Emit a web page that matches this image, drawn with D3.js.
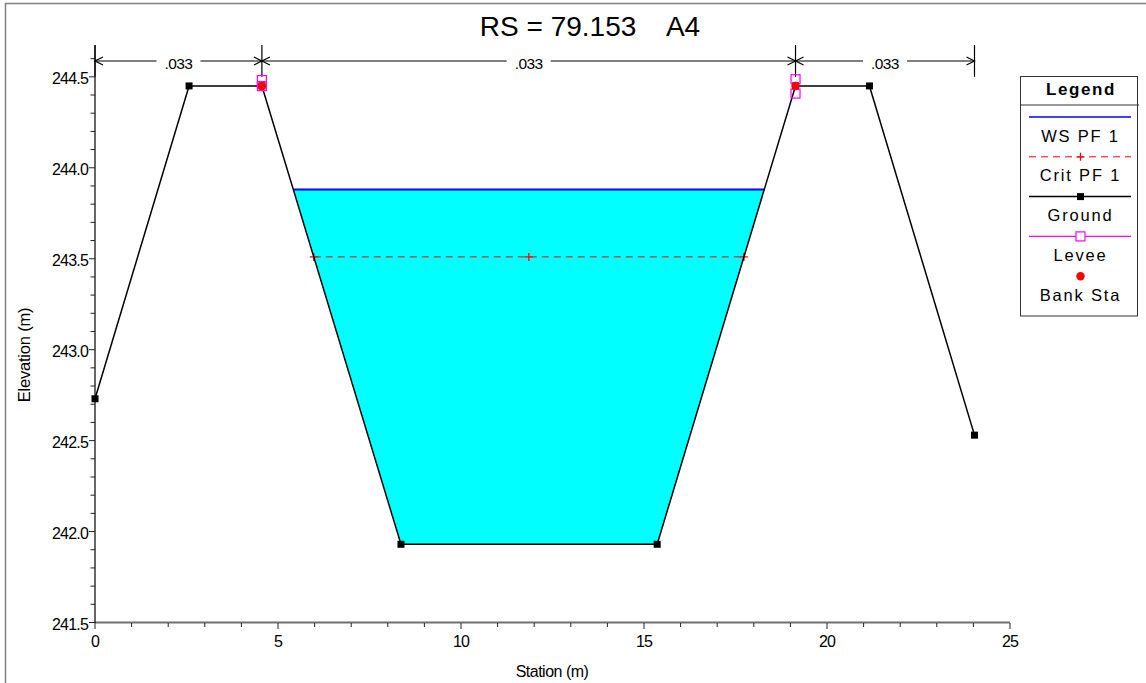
<!DOCTYPE html>
<html>
<head>
<meta charset="utf-8">
<script src="https://cdn.jsdelivr.net/npm/d3@7"></script>
<style>
  html, body { margin: 0; padding: 0; background: #fff; }
  svg { display: block; font-family: "Liberation Sans", Arial, Helvetica, sans-serif; }
</style>
</head>
<body>
<svg id="chart" width="1146" height="683"></svg>
<script>
// ---- data ----
const title = "RS = 79.153    A4";
const groundStations = [0, 2.57, 4.56, 8.36, 15.36, 19.14, 21.16, 24.03];
const groundElev     = [242.73, 244.45, 244.45, 241.93, 241.93, 244.45, 244.45, 242.53];
const bankStations = [4.56, 19.14];
const bankElev     = [244.45, 244.45];
const leveeStations = [4.56, 4.56, 19.14, 19.14];
const leveeElev     = [244.482, 244.449, 244.487, 244.408];
const wsElev = 243.88;
const critElev = 243.51;
const nStations = [0, 4.56, 19.14, 24.03];
const nValues = [".033", ".033", ".033"];
const xTicks = [0, 5, 10, 15, 20, 25];
const yTicks = [241.5, 242.0, 242.5, 243.0, 243.5, 244.0, 244.5];
const legendItems = ["WS PF 1", "Crit PF 1", "Ground", "Levee", "Bank Sta"];

// ---- setup ----
const svg = d3.select("#chart");
const x = d3.scaleLinear().domain([0, 25]).range([95, 1010]);
const y = d3.scaleLinear().domain([241.5, 244.675]).range([622.5, 45]);
const ground = groundStations.map((s, i) => [s, groundElev[i]]);

// outer frame
svg.append("line").attr("x1", 5.5).attr("x2", 5.5).attr("y1", 3).attr("y2", 683).attr("stroke", "#808080").attr("stroke-width", 1.5);
svg.append("line").attr("x1", 5).attr("x2", 1146).attr("y1", 3.5).attr("y2", 3.5).attr("stroke", "#808080").attr("stroke-width", 1.5);

// title
svg.append("text").attr("x", 590).attr("y", 36).attr("text-anchor", "middle")
  .attr("font-size", 28).style("white-space", "pre").attr("xml:space", "preserve").text(title);

// find intersections of a horizontal level with the ground inside the banks
function crossings(level) {
  const res = [];
  for (let i = 0; i < ground.length - 1; i++) {
    const [s0, e0] = ground[i], [s1, e1] = ground[i + 1];
    if (s0 < bankStations[0] || s1 > bankStations[1]) continue;
    if ((e0 - level) * (e1 - level) <= 0 && e0 !== e1) {
      res.push(s0 + (level - e0) / (e1 - e0) * (s1 - s0));
    }
  }
  return [d3.min(res), d3.max(res)];
}

// water fill
const [wsL, wsR] = crossings(wsElev);
const poly = [[wsL, wsElev]];
ground.forEach(p => { if (p[0] > wsL && p[0] < wsR && p[1] < wsElev) poly.push(p); });
poly.push([wsR, wsElev]);
svg.append("path").attr("d", d3.line().x(d => x(d[0])).y(d => y(d[1]))(poly) + "Z")
  .attr("fill", "#00FFFF").attr("stroke", "none");

// WS line
svg.append("line").attr("x1", x(wsL)).attr("x2", x(wsR)).attr("y1", y(wsElev)).attr("y2", y(wsElev))
  .attr("stroke", "#0000FF").attr("stroke-width", 2);

// crit line
const [cL, cR] = crossings(critElev);
svg.append("line").attr("x1", x(cL)).attr("x2", x(cR)).attr("y1", y(critElev)).attr("y2", y(critElev))
  .attr("stroke", "#FF0000").attr("stroke-width", 1).attr("stroke-dasharray", "7,5");
function plus(g, cx, cy, r) {
  g.append("path").attr("d", `M${cx - r},${cy}H${cx + r}M${cx},${cy - r}V${cy + r}`)
    .attr("stroke", "#FF0000").attr("stroke-width", 1.3).attr("fill", "none");
}
[cL, (cL + cR) / 2, cR].forEach(s => plus(svg, x(s), y(critElev), 4));

// axes
const xAxisG = svg.append("g");
xAxisG.append("line").attr("x1", 95).attr("x2", 1010).attr("y1", 622.5).attr("y2", 622.5).attr("stroke", "#707070").attr("stroke-width", 2);
d3.range(0, 26).forEach(v => {
  const major = v % 5 === 0;
  xAxisG.append("line").attr("x1", x(v)).attr("x2", x(v)).attr("y1", 623).attr("y2", major ? 629 : 627)
    .attr("stroke", "#222").attr("stroke-width", 1);
});
xTicks.forEach(v => {
  xAxisG.append("text").attr("x", x(v)).attr("y", 646.5).attr("text-anchor", "middle")
    .attr("font-size", 16).attr("letter-spacing", -0.8).text(v);
});
const yAxisG = svg.append("g");
yAxisG.append("line").attr("x1", 95).attr("x2", 95).attr("y1", 45).attr("y2", 623).attr("stroke", "#000").attr("stroke-width", 1.2);
d3.range(0, 32).forEach(i => {
  const v = 241.5 + i * 0.1;
  const major = i % 5 === 0;
  yAxisG.append("line").attr("x1", major ? 89 : 90.5).attr("x2", 95).attr("y1", y(v)).attr("y2", y(v))
    .attr("stroke", "#222").attr("stroke-width", 1);
});
yTicks.forEach(v => {
  yAxisG.append("text").attr("x", 88).attr("y", y(v) + 7).attr("text-anchor", "end")
    .attr("font-size", 16).attr("letter-spacing", -0.8).text(d3.format(".1f")(v));
});
svg.append("text").attr("x", 552).attr("y", 677).attr("text-anchor", "middle")
  .attr("font-size", 16).attr("letter-spacing", -0.5).text("Station (m)");
svg.append("text").attr("transform", "translate(29.5,355) rotate(-90)").attr("text-anchor", "middle")
  .attr("font-size", 16.5).attr("letter-spacing", -0.2).text("Elevation (m)");

// n-value annotations
const nY = 61;
const nG = svg.append("g").attr("stroke", "#000").attr("fill", "none");
nStations.forEach(s => {
  nG.append("line").attr("x1", x(s)).attr("x2", x(s)).attr("y1", 45).attr("y2", y(244.5)).attr("stroke-width", 1.2);
});
nValues.forEach((n, i) => {
  const a = x(nStations[i]), b = x(nStations[i + 1]);
  nG.append("line").attr("x1", a).attr("x2", b).attr("y1", nY).attr("y2", nY).attr("stroke-width", 1);
  nG.append("path").attr("d", `M${a + 8},${nY - 4}L${a},${nY}L${a + 8},${nY + 4}`).attr("stroke-width", 1.2);
  nG.append("path").attr("d", `M${b - 8},${nY - 4}L${b},${nY}L${b - 8},${nY + 4}`).attr("stroke-width", 1.2);
  const mid = (a + b) / 2;
  svg.append("rect").attr("x", mid - 22).attr("y", nY - 8).attr("width", 44).attr("height", 16).attr("fill", "#fff");
  svg.append("text").attr("x", mid).attr("y", nY + 8).attr("text-anchor", "middle")
    .attr("font-size", 15.5).attr("letter-spacing", -0.6).text(n);
});

// ground
svg.append("path").attr("d", d3.line().x(d => x(d[0])).y(d => y(d[1]))(ground))
  .attr("fill", "none").attr("stroke", "#000").attr("stroke-width", 1.5);
svg.selectAll(".gm").data(ground).enter().append("rect")
  .attr("x", d => x(d[0]) - 3.5).attr("y", d => y(d[1]) - 3.5).attr("width", 7).attr("height", 7).attr("fill", "#000");

// levee
leveeStations.forEach((s, i) => {
  svg.append("rect").attr("x", x(s) - 4.5).attr("y", y(leveeElev[i]) - 4.5).attr("width", 9).attr("height", 9)
    .attr("fill", "none").attr("stroke", "#FF00FF").attr("stroke-width", 1.2);
});
// bank stations
bankStations.forEach((s, i) => {
  svg.append("circle").attr("cx", x(s)).attr("cy", y(bankElev[i])).attr("r", 4.2).attr("fill", "#FF0000");
});

// legend
const lg = svg.append("g");
lg.append("rect").attr("x", 1020.5).attr("y", 76.5).attr("width", 117).attr("height", 239.5)
  .attr("fill", "#fff").attr("stroke", "#333").attr("stroke-width", 1);
lg.append("line").attr("x1", 1020.5).attr("x2", 1139).attr("y1", 105).attr("y2", 105).attr("stroke", "#333");
lg.append("text").attr("x", 1081).attr("y", 95).attr("text-anchor", "middle").attr("font-size", 17)
  .attr("font-weight", "bold").attr("letter-spacing", 1.6).text("Legend");
const lx1 = 1029, lx2 = 1131, lcx = 1080.5;
legendItems.forEach((name, i) => {
  const ly = 117 + i * 39.8;
  if (i === 0) {
    lg.append("line").attr("x1", lx1).attr("x2", lx2).attr("y1", ly).attr("y2", ly).attr("stroke", "#0000FF").attr("stroke-width", 1.5);
  } else if (i === 1) {
    lg.append("line").attr("x1", lx1).attr("x2", lx2).attr("y1", ly).attr("y2", ly).attr("stroke", "#FF0000").attr("stroke-width", 1).attr("stroke-dasharray", "7,5");
    plus(lg, lcx, ly, 4);
  } else if (i === 2) {
    lg.append("line").attr("x1", lx1).attr("x2", lx2).attr("y1", ly).attr("y2", ly).attr("stroke", "#000").attr("stroke-width", 1.5);
    lg.append("rect").attr("x", lcx - 3.5).attr("y", ly - 3.5).attr("width", 7).attr("height", 7).attr("fill", "#000");
  } else if (i === 3) {
    lg.append("line").attr("x1", lx1).attr("x2", lx2).attr("y1", ly).attr("y2", ly).attr("stroke", "#FF00FF").attr("stroke-width", 1.2);
    lg.append("rect").attr("x", lcx - 4.5).attr("y", ly - 4.5).attr("width", 9).attr("height", 9).attr("fill", "#fff").attr("stroke", "#FF00FF").attr("stroke-width", 1.2);
  } else {
    lg.append("circle").attr("cx", lcx).attr("cy", ly).attr("r", 4.2).attr("fill", "#FF0000");
  }
  lg.append("text").attr("x", lcx).attr("y", ly + 24.5).attr("text-anchor", "middle").attr("font-size", 16.5)
    .attr("letter-spacing", 1.8).text(name);
});
</script>
</body>
</html>
